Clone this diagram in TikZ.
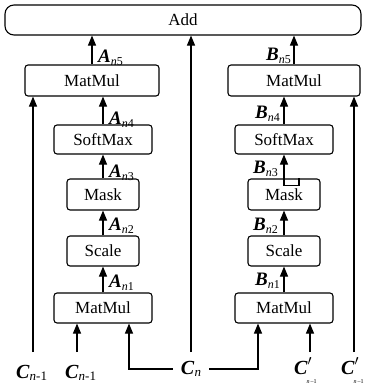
\documentclass[tikz,border=0pt]{standalone}
\usepackage{fontspec}
\setmainfont{Liberation Serif}
\usetikzlibrary{arrows.meta}
\newcommand{\Lab}[2]{\textbf{\textit{#1}}\raisebox{-0.35ex}{\fontsize{12}{12}\selectfont\textit{n}#2}}
\newcommand{\CLab}{\textbf{\textit{C}}\raisebox{-0.3ex}{\fontsize{13}{13}\selectfont\textit{n}-1}}
\newcommand{\CPLab}{\textbf{\textit{C}}\raisebox{0.9ex}{\fontsize{14}{14}\selectfont$\prime$}\hspace{-5pt}\raisebox{-1.0ex}{\fontsize{6}{6}\selectfont\textit{n}\,–1}}
\begin{document}
\begin{tikzpicture}[x=1pt,y=-1pt,
  box/.style={draw, line width=1.1pt, rounded corners=3pt, font=\fontsize{17}{17}\selectfont, inner sep=0pt},
  arr/.style={line width=1.1pt, -{Triangle[length=10pt,width=8pt]}},
  ln/.style={line width=1.1pt},
  lbl/.style={font=\fontsize{19}{19}\selectfont, inner sep=0pt},
  clbl/.style={font=\fontsize{20}{20}\selectfont, inner sep=0pt}]
\useasboundingbox (0,0) rectangle (366,386);
% boxes
\node[box, rounded corners=9pt, minimum width=356pt, minimum height=30pt] (add) at (183,20) {Add};
\node[box, minimum width=134pt, minimum height=31pt] (mmA) at (92,80.5) {MatMul};
\node[box, minimum width=98pt, minimum height=29pt] (smA) at (103,139.5) {SoftMax};
\node[box, minimum width=72pt, minimum height=31pt] (mkA) at (103,194.5) {Mask};
\node[box, minimum width=72pt, minimum height=30pt] (scA) at (103,251) {Scale};
\node[box, minimum width=98pt, minimum height=30pt] (mbA) at (103,308) {MatMul};
\node[box, minimum width=132pt, minimum height=31pt] (mmB) at (294,80.5) {MatMul};
\node[box, minimum width=98pt, minimum height=29pt] (smB) at (284,139.5) {SoftMax};
\node[box, minimum width=72pt, minimum height=31pt] (mkB) at (284,194.5) {Mask};
\node[box, minimum width=72pt, minimum height=30pt] (scB) at (284,251) {Scale};
\node[box, minimum width=98pt, minimum height=30pt] (mbB) at (284,308) {MatMul};
% input labels
\node[clbl, anchor=base west] (c1) at (16,378) {\CLab};
\node[clbl, anchor=base west] (c2) at (65,378) {\CLab};
\node[clbl, anchor=base, inner xsep=8pt] (cn) at (191,374) {\textbf{\textit{C}}\raisebox{-0.3ex}{\fontsize{13}{13}\selectfont\textit{n}}};
\node[clbl, anchor=base west] (cp1) at (294,374) {\CPLab};
\node[clbl, anchor=base west] (cp2) at (341,374) {\CPLab};
% input coordinates
\coordinate (p1) at (33,352);
\coordinate (p2) at (77,352);
\coordinate (pm) at (191,352);
\coordinate (p3) at (310,352);
\coordinate (p4) at (354,352);
% left chain
\draw[arr] (mbA.north) -- (scA.south);
\draw[arr] (scA.north) -- (mkA.south);
\draw[arr] (mkA.north) -- (smA.south);
\draw[arr] (smA.north) -- (smA.north |- mmA.south);
\draw[arr] (mmA.north) -- (mmA.north |- add.south);
% right chain
\draw[arr] (mbB.north) -- (scB.south);
\draw[arr] (scB.north) -- (mkB.south);
\draw[ln] (mkB.north) -- ++(0,7) -- ++(15,0) -- ++(0,-7);
\draw[arr] ([yshift=-7pt]mkB.north) -- (smB.south);
\draw[arr] (smB.north) -- (smB.north |- mmB.south);
\draw[arr] (mmB.north) -- (mmB.north |- add.south);
% inputs
\draw[arr] (p1) -- (p1 |- mmA.south);
\draw[arr] (p2) -- (p2 |- mbA.south);
\draw[arr] (cn.west |- 0,369) -| ([xshift=26pt]mbA.south);
\draw[arr] (cn.east |- 0,369) -| ([xshift=-26pt]mbB.south);
\draw[arr] (pm) -- (pm |- add.south);
\draw[arr] (p3) -- (p3 |- mbB.south);
\draw[arr] (p4) -- (p4 |- mmB.south);
% labels
\node[lbl, anchor=base west] (la5) at (98,62) {\Lab{A}{5}};
\node[lbl, anchor=base west] (la4) at (109,124) {\Lab{A}{4}};
\node[lbl, anchor=base west] (la3) at (109,177) {\Lab{A}{3}};
\node[lbl, anchor=base west] (la2) at (109,230) {\Lab{A}{2}};
\node[lbl, anchor=base west] (la1) at (109,287) {\Lab{A}{1}};
\node[lbl, anchor=base east] (lb5) at (291,60) {\Lab{B}{5}};
\node[lbl, anchor=base east] (lb4) at (280,118) {\Lab{B}{4}};
\node[lbl, anchor=base east] (lb3) at (278,173) {\Lab{B}{3}};
\node[lbl, anchor=base east] (lb2) at (278,230) {\Lab{B}{2}};
\node[lbl, anchor=base east] (lb1) at (280,285) {\Lab{B}{1}};
\end{tikzpicture}
\end{document}
